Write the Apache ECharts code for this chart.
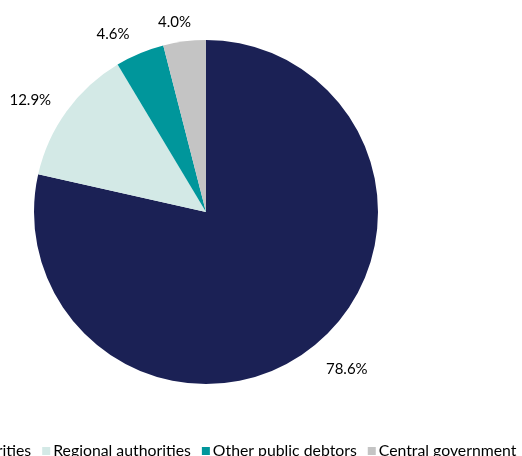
<!DOCTYPE html>
<html><head><meta charset="utf-8">
<script src="https://cdn.jsdelivr.net/npm/echarts@6/dist/echarts.min.js"></script>
<style>html,body{margin:0;padding:0;background:#fff}#c{width:522px;height:456px}</style>
</head><body><div id="c"></div>
<script>
const categories = ["Local authorities", "Regional authorities", "Other public debtors", "Central government"];
const values = [78.6, 12.9, 4.6, 4.0];
const colors = ["#1B2155", "#D3E9E6", "#00969B", "#C4C4C4"];
const labelShift = [[-5, 7], [1, 1], [7, -4], [14, 1]];
const FONT = "Lato, 'Open Sans', sans-serif";

const chart = echarts.init(document.getElementById('c'));
chart.setOption({
  animation: false,
  color: colors,
  legend: {
    data: categories,
    left: -99,
    top: 438,
    itemWidth: 8,
    itemHeight: 8,
    itemGap: 11,
    icon: 'rect',
    textStyle: {fontFamily: FONT, fontSize: 15.8, color: '#000', padding: [0,0,0,-2]}
  },
  series: [{
    type: 'pie',
    center: [206, 212],
    radius: [0, 172],
    startAngle: 90,
    clockwise: true,
    data: categories.map((n, i) => ({name: n, value: values[i]})),
    label: {
      show: true,
      position: 'outside',
      overflow: 'none',
      formatter: p => p.value.toFixed(1) + '%',
      fontFamily: FONT, fontSize: 15, color: '#000'
    },
    labelLayout: p => ({dx: labelShift[p.dataIndex][0], dy: labelShift[p.dataIndex][1]}),
    labelLine: {show: false, length: 20, length2: 0},
    itemStyle: {borderWidth: 0}
  }]
});
</script></body></html>
